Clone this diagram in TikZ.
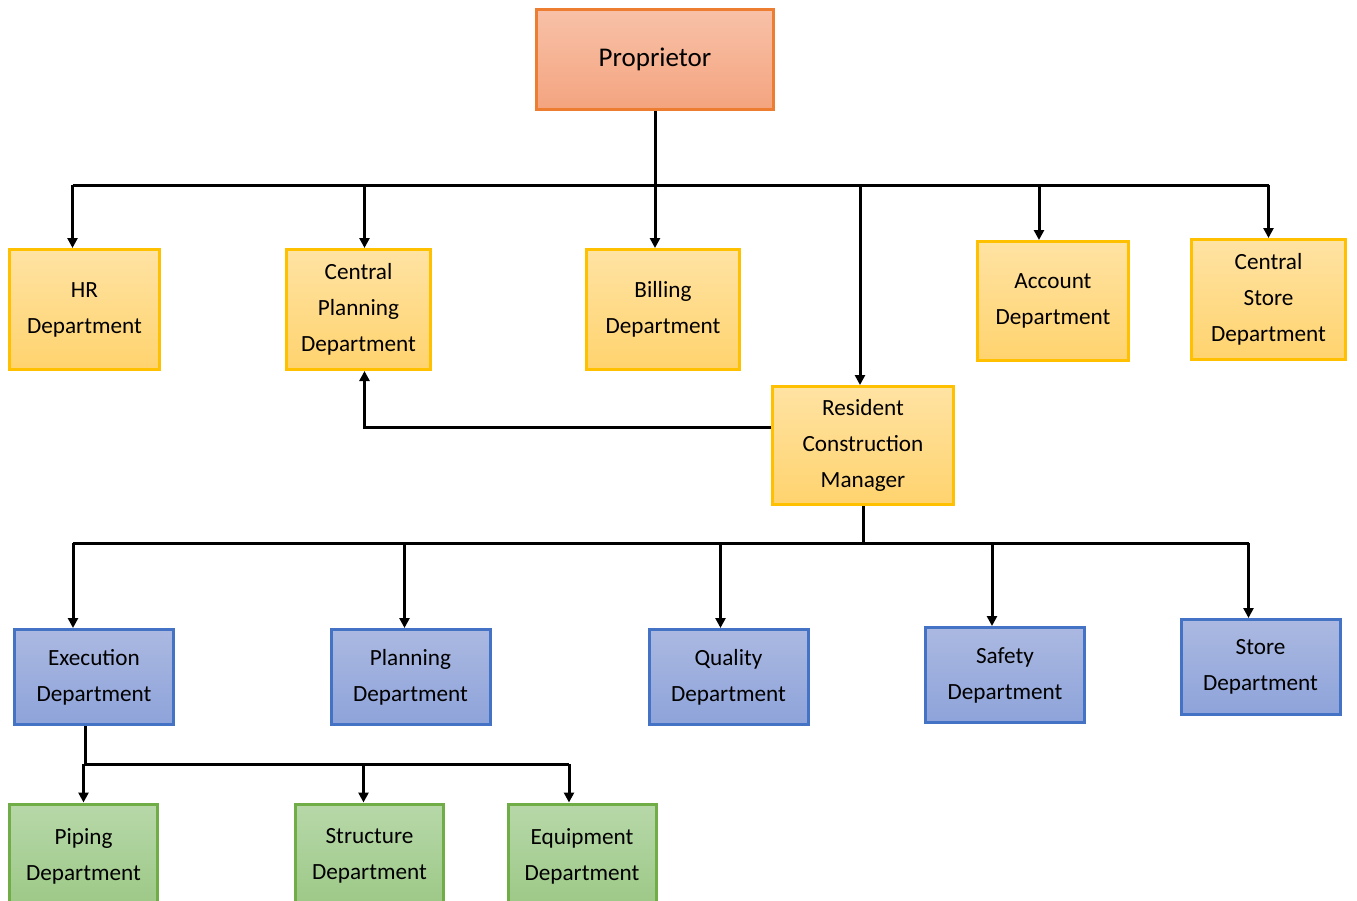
\documentclass[tikz,border=0pt]{standalone}
\usepackage{fontspec}
\setmainfont{Carlito}
\usetikzlibrary{arrows.meta}

\begin{document}
\begin{tikzpicture}[
    x=0.5pt, y=-0.5pt,
    box/.style={
        rectangle, draw, line width=1.5pt, inner sep=0pt, align=center,
        font=\fontsize{11.6}{18}\selectfont
    },
    ownerbox/.style={box, draw=orgline, top color=orgtop, bottom color=orgbot,
        font=\fontsize{13.5}{18}\selectfont},
    headbox/.style={box, draw=yelline, top color=yeltop, bottom color=yelbot},
    deptbox/.style={box, draw=bluline, top color=blutop, bottom color=blubot,
        minimum width=79.5pt, minimum height=47.5pt},
    unitbox/.style={box, draw=grnline, top color=grntop, bottom color=grnbot,
        minimum width=74pt, minimum height=52pt},
    conn/.style={line width=1.5pt},
    >={Triangle[length=5pt,width=5pt]}
]
\definecolor{orgline}{HTML}{ED7D31}
\definecolor{orgtop}{HTML}{F8C1A8}
\definecolor{orgbot}{HTML}{F4A47F}
\definecolor{yelline}{HTML}{FFC000}
\definecolor{yeltop}{HTML}{FFE3A3}
\definecolor{yelbot}{HTML}{FFD36E}
\definecolor{bluline}{HTML}{4472C4}
\definecolor{blutop}{HTML}{ABB9E1}
\definecolor{blubot}{HTML}{8EA3DA}
\definecolor{grnline}{HTML}{70AD47}
\definecolor{grntop}{HTML}{B7D8A9}
\definecolor{grnbot}{HTML}{9CC886}

\useasboundingbox (0,0) rectangle (1357,901);
\clip (0,0) rectangle (1357,901);

% top
\node[ownerbox, minimum width=118.5pt, minimum height=50pt] (owner) at (655,59.5) {Proprietor};

% head office
\node[headbox, minimum width=75pt, minimum height=60pt] (hr) at (84.5,309.5) {HR\\Department};
\node[headbox, minimum width=72pt, minimum height=60pt] (cplan) at (358.5,309.5) {Central\\Planning\\Department};
\node[headbox, minimum width=76.5pt, minimum height=60pt] (billing) at (663,309.5) {Billing\\Department};
\node[headbox, minimum width=75.5pt, minimum height=59.5pt] (account) at (1053,301) {Account\\Department};
\node[headbox, minimum width=77pt, minimum height=60pt] (cstore) at (1268.5,299.5) {Central\\Store\\Department};
\node[headbox, minimum width=90.5pt, minimum height=59pt] (rcm) at (863,445.5) {Resident\\Construction\\Manager};

% site departments
\node[deptbox] (exec) at (94,677) {Execution\\Department};
\node[deptbox] (planning) at (410.5,677) {Planning\\Department};
\node[deptbox] (quality) at (728.5,677) {Quality\\Department};
\node[deptbox] (safety) at (1005,675) {Safety\\Department};
\node[deptbox] (store) at (1260.5,667) {Store\\Department};

% execution units
\node[unitbox] (piping) at (83.5,856) {Piping\\Department};
\node[unitbox] (structure) at (369.5,856) {Structure\\Department};
\node[unitbox] (equipment) at (582,856) {Equipment\\Department};

\coordinate (busA) at (0,185);
\coordinate (busB) at (0,543);
\coordinate (busC) at (0,764);

\draw[conn, ->] (owner.south) -- (owner.south |- billing.north);
\draw[conn] ([xshift=-6pt]hr.north |- busA) -- (cstore.north |- busA);
\draw[conn, ->] ([xshift=-6pt]hr.north |- busA) -- ([xshift=-6pt]hr.north);
\draw[conn, ->] ([xshift=3pt]cplan.north |- busA) -- ([xshift=3pt]cplan.north);
\draw[conn, ->] ([xshift=-7pt]account.north |- busA) -- ([xshift=-7pt]account.north);
\draw[conn, ->] (cstore.north |- busA) -- (cstore.north);
\draw[conn, ->] ([xshift=-1.5pt]rcm.north |- busA) -- ([xshift=-1.5pt]rcm.north);
\draw[conn, ->] ([yshift=9pt]rcm.west) -| ([xshift=3pt]cplan.south);

\draw[conn] (rcm.south) -- (rcm.south |- busB);
\draw[conn] ([xshift=-10.5pt]exec.north |- busB) -- ([xshift=-6pt]store.north |- busB);
\draw[conn, ->] ([xshift=-10.5pt]exec.north |- busB) -- ([xshift=-10.5pt]exec.north);
\draw[conn, ->] ([xshift=-3pt]planning.north |- busB) -- ([xshift=-3pt]planning.north);
\draw[conn, ->] ([xshift=-4pt]quality.north |- busB) -- ([xshift=-4pt]quality.north);
\draw[conn, ->] ([xshift=-6.5pt]safety.north |- busB) -- ([xshift=-6.5pt]safety.north);
\draw[conn, ->] ([xshift=-6pt]store.north |- busB) -- ([xshift=-6pt]store.north);

\draw[conn] ([xshift=-4.5pt]exec.south) -- ([xshift=-4.5pt]exec.south |- busC);
\draw[conn] ([xshift=-4.5pt]exec.south |- busC) -- ([xshift=-6.5pt]equipment.north |- busC);
\draw[conn, ->] (piping.north |- busC) -- (piping.north);
\draw[conn, ->] ([xshift=-3pt]structure.north |- busC) -- ([xshift=-3pt]structure.north);
\draw[conn, ->] ([xshift=-6.5pt]equipment.north |- busC) -- ([xshift=-6.5pt]equipment.north);
\end{tikzpicture}
\end{document}
